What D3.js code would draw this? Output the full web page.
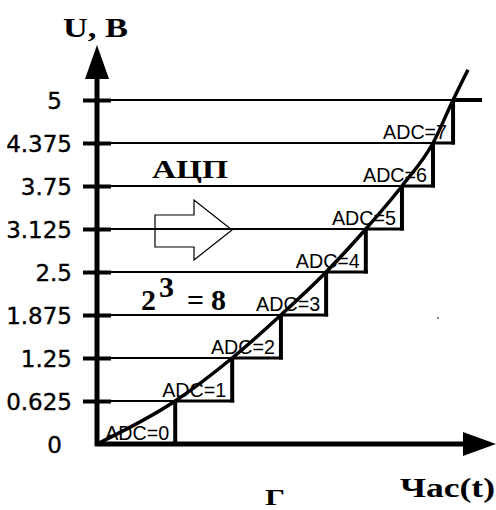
<!DOCTYPE html>
<html><head><meta charset="utf-8">
<script src="https://cdn.jsdelivr.net/npm/d3@7"></script>
<style>html,body{margin:0;padding:0;background:#fff;}svg{display:block;}</style>
</head><body>
<svg id="c" width="496" height="510"></svg>
<script>
// ---- data ----
const levels = [0, 0.625, 1.25, 1.875, 2.5, 3.125, 3.75, 4.375, 5];
const tickLabels = ["0", "0.625", "1.25", "1.875", "2.5", "3.125", "3.75", "4.375", "5"];
const crossTimes = [0, 1.99, 3.44, 4.68, 5.83, 6.84, 7.76, 8.55, 9.06];
const adcCodes = [0, 1, 2, 3, 4, 5, 6, 7];
const signalT = [0, 1.99, 3.44, 4.68, 5.83, 6.84, 7.76, 8.55, 9.06, 9.44];
const signalU = [0, 0.625, 1.25, 1.875, 2.5, 3.125, 3.75, 4.375, 5, 5.44];
const yTitle = "U, B";
const xTitle = "Час(t)";
const adcTitle = "АЦП";
const bottomNote = "Г";

// ---- scales ----
const x = d3.scaleLinear().domain([0, 10]).range([97, 490]);
const y = d3.scaleLinear().domain([0, 5]).range([444, 100]);
const svg = d3.select("#c");
const serif = "'Liberation Serif','Times New Roman',serif";

// thin grid lines
const g = svg.append("g");
levels.forEach((v, k) => {
  if (k === 0) return;
  const xEnd = k < 8 ? x(crossTimes[k + 1]) : x(crossTimes[8]);
  g.append("line").attr("x1", 111).attr("x2", xEnd)
    .attr("y1", y(v)).attr("y2", y(v)).attr("stroke", "#000").attr("stroke-width", 1.8);
});

// staircase
adcCodes.forEach(k => {
  const x0 = x(crossTimes[k]), x1 = x(crossTimes[k + 1]);
  if (k > 0) {
    g.append("line").attr("x1", x0).attr("x2", x1 + 2)
      .attr("y1", y(levels[k])).attr("y2", y(levels[k]))
      .attr("stroke", "#000").attr("stroke-width", 3);
  }
  g.append("line").attr("x1", x1).attr("x2", x1)
    .attr("y1", y(levels[k]) + 1.5).attr("y2", y(levels[k + 1]))
    .attr("stroke", "#000").attr("stroke-width", 4);
  g.append("text").attr("x", x1 - 6).attr("y", y(levels[k]) - 4)
    .attr("text-anchor", "end")
    .attr("font-family", "'Liberation Sans',Arial,sans-serif").attr("font-size", 19.5)
    .attr("textLength", 64).attr("lengthAdjust", "spacingAndGlyphs")
    .text("ADC=" + k);
});
// top level extension
g.append("line").attr("x1", x(crossTimes[8])).attr("x2", 482)
  .attr("y1", y(5)).attr("y2", y(5)).attr("stroke", "#000").attr("stroke-width", 4);

// signal curve
const line = d3.line().x((d, i) => x(signalT[i])).y(d => y(d)).curve(d3.curveMonotoneX);
svg.append("path").attr("d", line(signalU)).attr("fill", "none")
  .attr("stroke", "#000").attr("stroke-width", 3.5);

// y axis with ticks
const yAxis = d3.axisLeft(y).tickValues(levels)
  .tickFormat((d, i) => tickLabels[i]).tickSize(0);
const ya = svg.append("g").attr("transform", "translate(97,0)").call(yAxis);
ya.select(".domain").remove();
ya.selectAll(".tick line").attr("x1", -14).attr("x2", 14)
  .attr("stroke", "#000").attr("stroke-width", 4)
  .attr("display", d => d === 0 ? "none" : null);
ya.selectAll(".tick text")
  .attr("x", (d, i) => tickLabels[i].includes(".") ? -25 : -35)
  .attr("dy", "0.36em")
  .attr("font-family", "'DejaVu Sans',Verdana,sans-serif").attr("font-size", 23)
  .attr("fill", "#000").attr("stroke", "#000").attr("stroke-width", 0.35);

// axis lines and arrows
svg.append("line").attr("x1", 97).attr("x2", 97).attr("y1", 446).attr("y2", 75)
  .attr("stroke", "#000").attr("stroke-width", 5);
svg.append("path").attr("d", "M97,45 L85,79 L109,79 Z").attr("fill", "#000");
svg.append("line").attr("x1", 95).attr("x2", 466).attr("y1", 444).attr("y2", 444)
  .attr("stroke", "#000").attr("stroke-width", 5);
svg.append("path").attr("d", "M496,444 L463,432 L463,456 Z").attr("fill", "#000");

// titles
svg.append("text").attr("x", 63).attr("y", 37).attr("font-family", serif)
  .attr("font-weight", "bold").attr("font-size", 27)
  .attr("textLength", 65).attr("lengthAdjust", "spacingAndGlyphs").text(yTitle);
svg.append("text").attr("x", 400).attr("y", 497).attr("font-family", serif)
  .attr("font-weight", "bold").attr("font-size", 28)
  .attr("textLength", 95).attr("lengthAdjust", "spacingAndGlyphs").text(xTitle);
svg.append("text").attr("x", 265).attr("y", 505).attr("font-family", serif)
  .attr("font-weight", "bold").attr("font-size", 23)
  .attr("textLength", 20).attr("lengthAdjust", "spacingAndGlyphs").text(bottomNote);
svg.append("text").attr("x", 152).attr("y", 178).attr("font-family", serif)
  .attr("font-weight", "bold").attr("font-size", 26)
  .attr("textLength", 76).attr("lengthAdjust", "spacingAndGlyphs").text(adcTitle);

// block arrow
svg.append("path")
  .attr("d", "M155,215 L194,215 L194,200 L232,230 L194,260 L194,247 L155,247 Z")
  .attr("fill", "none").attr("stroke", "#000").attr("stroke-width", 1.2);

// 2^3 = 8
const eq = svg.append("g").attr("font-family", serif).attr("font-weight", "bold")
  .attr("font-size", 30).attr("lengthAdjust", "spacingAndGlyphs");
eq.append("text").attr("x", 141).attr("y", 310).attr("textLength", 17).text("2");
eq.append("text").attr("x", 159).attr("y", 297).attr("textLength", 16).text("3");
eq.append("text").attr("x", 187).attr("y", 310).attr("textLength", 22).text("=");
eq.append("text").attr("x", 211).attr("y", 310).attr("textLength", 22).text("8");

// stray dot
svg.append("circle").attr("cx", 438).attr("cy", 318).attr("r", 1).attr("fill", "#555");
</script>
</body></html>
